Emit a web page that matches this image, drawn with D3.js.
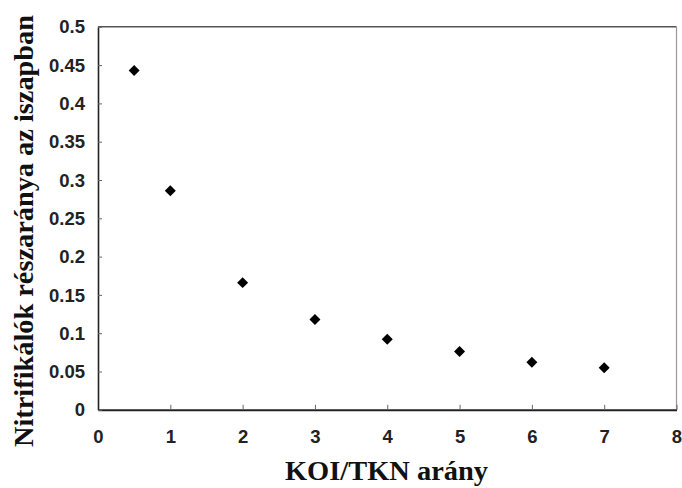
<!DOCTYPE html>
<html><head><meta charset="utf-8">
<script src="https://cdn.jsdelivr.net/npm/d3@7"></script>
<style>body{margin:0;background:#fff}svg{display:block}</style>
</head><body>
<svg id="c" width="682" height="488"></svg>
<script>
const xValues = [0.5, 1, 2, 3, 4, 5, 6, 7];
const yValues = [0.443, 0.286, 0.166, 0.118, 0.092, 0.076, 0.062, 0.055];
const xTicks = [0, 1, 2, 3, 4, 5, 6, 7, 8];
const yTicks = [0, 0.05, 0.1, 0.15, 0.2, 0.25, 0.3, 0.35, 0.4, 0.45, 0.5];
const xTitle = "KOI/TKN arány";
const yTitle = "Nitrifikálók részaránya az iszapban";

const svg = d3.select("#c");
const L = 98, R = 676.5, T = 26.8, B = 409.8;
const x = d3.scaleLinear().domain([0, 8]).range([L, R]);
const y = d3.scaleLinear().domain([0, 0.5]).range([B, T]);

// frame top/right
svg.append("line").attr("x1", L).attr("x2", R).attr("y1", T).attr("y2", T)
  .attr("stroke", "#555").attr("stroke-width", 1.5);
svg.append("line").attr("x1", R).attr("x2", R).attr("y1", T).attr("y2", B)
  .attr("stroke", "#999").attr("stroke-width", 1.2);

const fmt = d => d === 0 ? "0" : String(+d.toFixed(2));

// x axis
const gx = svg.append("g").attr("transform", `translate(0,${B})`)
  .call(d3.axisBottom(x).tickValues(xTicks).tickFormat(fmt).tickSizeInner(-5).tickSizeOuter(0).tickPadding(0));
gx.select(".domain").attr("stroke", "#222").attr("stroke-width", 2);
gx.selectAll(".tick line").attr("stroke", "#666").attr("stroke-width", 1);
gx.selectAll(".tick text")
  .attr("y", 33).attr("dy", null)
  .attr("font-family", "Liberation Sans, Arial, sans-serif")
  .attr("font-weight", "bold").attr("font-size", 18.5).attr("fill", "#222");

// y axis
const gy = svg.append("g").attr("transform", `translate(${L},0)`)
  .call(d3.axisLeft(y).tickValues(yTicks).tickFormat(fmt).tickSizeInner(-4).tickSizeOuter(0).tickPadding(0));
gy.select(".domain").attr("stroke", "#222").attr("stroke-width", 1.6);
gy.selectAll(".tick line").attr("stroke", "#666").attr("stroke-width", 1);
gy.selectAll(".tick text")
  .attr("x", -13).attr("dy", "0.33em")
  .attr("font-family", "Liberation Sans, Arial, sans-serif")
  .attr("font-weight", "bold").attr("font-size", 18.5).attr("fill", "#222");

// points
const sym = d3.symbol().type(d3.symbolSquare).size(60);
svg.append("g").selectAll("path").data(xValues).join("path")
  .attr("d", sym)
  .attr("transform", (d, i) => `translate(${x(d)},${y(yValues[i])}) rotate(45)`)
  .attr("fill", "#000");

// titles
svg.append("text").text(xTitle)
  .attr("x", 386.5).attr("y", 480).attr("text-anchor", "middle")
  .attr("font-family", "Liberation Serif, Times New Roman, serif")
  .attr("font-weight", "bold").attr("font-size", 27).attr("fill", "#111")
  .attr("textLength", 203).attr("lengthAdjust", "spacingAndGlyphs");

svg.append("text").text(yTitle)
  .attr("transform", "translate(33,231) rotate(-90)").attr("text-anchor", "middle")
  .attr("font-family", "Liberation Serif, Times New Roman, serif")
  .attr("font-weight", "bold").attr("font-size", 28).attr("fill", "#111")
  .attr("textLength", 432).attr("lengthAdjust", "spacingAndGlyphs");
</script>
</body></html>
